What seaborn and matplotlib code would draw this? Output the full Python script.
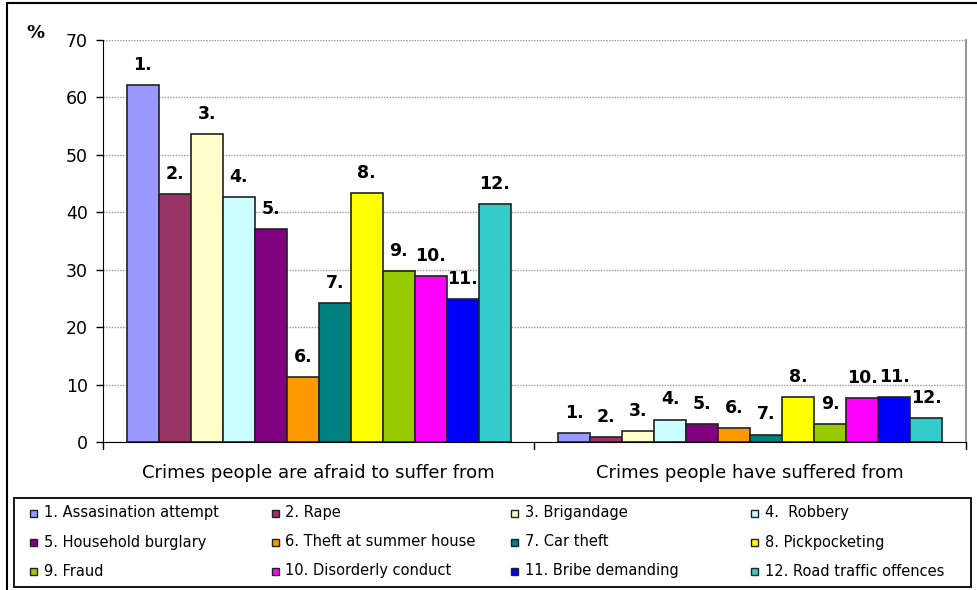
import matplotlib
matplotlib.use("Agg")
import matplotlib.pyplot as plt
import seaborn as sns
import pandas as pd
from matplotlib.patches import Rectangle
from matplotlib.lines import Line2D

# data
groups = ["Crimes people are afraid to suffer from", "Crimes people have suffered from"]
crimes = ["1. Assasination attempt", "2. Rape", "3. Brigandage", "4.  Robbery",
          "5. Household burglary", "6. Theft at summer house", "7. Car theft", "8. Pickpocketing",
          "9. Fraud", "10. Disorderly conduct", "11. Bribe demanding", "12. Road traffic offences"]
afraid = [62.2, 43.2, 53.6, 42.7, 37.1, 11.3, 24.2, 43.4, 29.7, 28.9, 24.9, 41.5]
suffered = [1.6, 0.8, 1.9, 3.9, 3.2, 2.4, 1.3, 7.9, 3.2, 7.6, 7.9, 4.2]
colors = ["#9999FF", "#993366", "#FFFFCC", "#CCFFFF", "#800080", "#FF9900",
          "#008080", "#FFFF00", "#99CC00", "#FF00FF", "#0000FF", "#33CCCC"]

rows = []
for i, c in enumerate(crimes):
    rows.append({"group": groups[0], "crime": c, "value": afraid[i]})
    rows.append({"group": groups[1], "crime": c, "value": suffered[i]})
df = pd.DataFrame(rows)

sns.set_style("white")
plt.rcParams["font.family"] = ["DejaVu Sans"]
plt.rcParams["text.color"] = "black"
plt.rcParams["xtick.color"] = "black"
plt.rcParams["ytick.color"] = "black"

W, H = 978, 590
fig = plt.figure(figsize=(W / 100, H / 100), dpi=100)
ax = fig.add_axes([103 / W, 1 - 442 / H, (966 - 103) / W, (442 - 40) / H])

sns.barplot(data=df, x="group", y="value", hue="crime", hue_order=crimes,
            palette=colors, saturation=1, edgecolor="#222222", linewidth=1.2,
            width=0.89, legend=False, ax=ax)

for i, cont in enumerate(ax.containers):
    ax.bar_label(cont, labels=[f"{i + 1}."] * len(cont), padding=8,
                 fontsize=12.5, fontweight="bold", color="black")

ax.set_ylim(0, 70)
ax.set_xlim(-0.5, 1.5)
ax.set_yticks(range(0, 71, 10))
ax.yaxis.grid(True, color="#999999", linestyle=(0, (1, 1)), linewidth=1)
ax.set_axisbelow(True)
ax.set_xlabel("")
ax.set_ylabel("")
ax.tick_params(axis="y", labelsize=12.5, left=True, length=5, width=1, direction="out", pad=6)
ax.tick_params(axis="x", labelsize=13, bottom=False, pad=12)
for x in [-0.5, 0.5, 1.5]:
    ax.plot([x, x], [0, -0.017], transform=ax.get_xaxis_transform(), color="black",
            linewidth=1, clip_on=False)

ax.spines["top"].set_visible(False)
ax.spines["right"].set_color("#999999")
ax.spines["right"].set_linewidth(1.5)
ax.spines["left"].set_color("black")
ax.spines["bottom"].set_color("black")

fig.text(35 / W, 1 - 33 / H, "%", fontsize=13, fontweight="bold", ha="center", va="center")

# legend box, drawn row by row like the original
fig.add_artist(Rectangle((14 / W, 1 - 587 / H), (971 - 14) / W, (587 - 498) / H,
                         transform=fig.transFigure, facecolor="white",
                         edgecolor="black", linewidth=1.3))
col_x = [34, 275, 515, 755]
row_y = [513, 542, 571]
for i, c in enumerate(crimes):
    cx = col_x[i % 4]
    cy = row_y[i // 4]
    fig.add_artist(Rectangle(((cx - 3.5) / W, 1 - (cy + 3.5) / H), 7 / W, 7 / H,
                             transform=fig.transFigure, facecolor=colors[i],
                             edgecolor="#222222", linewidth=1))
    fig.text((cx + 10) / W, 1 - cy / H, c, fontsize=10.5, ha="left", va="center")

# outer chart frame
fig.add_artist(Line2D([7 / W, 1], [1 - 3 / H, 1 - 3 / H], color="black", linewidth=1.5))
fig.add_artist(Line2D([7 / W, 7 / W], [0, 1 - 3 / H], color="black", linewidth=1.5))

fig.savefig("out.png", dpi=100)
